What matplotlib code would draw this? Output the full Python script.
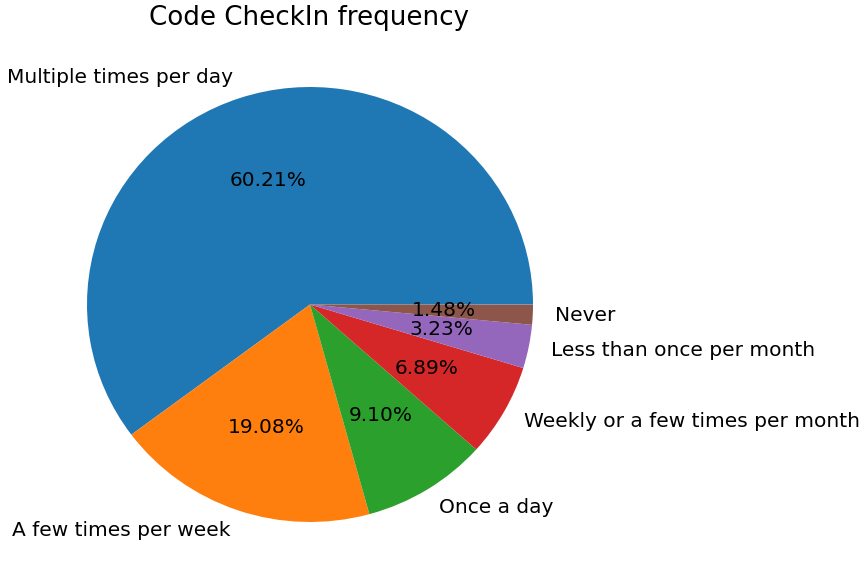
import matplotlib
matplotlib.use("Agg")
import matplotlib.pyplot as plt

# ======================
# Data
# ======================
labels = ["Multiple times per day", "A few times per week", "Once a day",
          "Weekly or a few times per month", "Less than once per month", "Never"]
shares = [60.21, 19.08, 9.10, 6.89, 3.23, 1.48]

fig = plt.figure(figsize=(8.65, 5.87), dpi=100)
# pie centre ~ (310, 304.5) px, radii ~223 (x) / ~217.5 (y) px; axes span 2.5 radii
w = 2.5 * 223
h = 2.5 * 217.5
ax = fig.add_axes([(310 - w / 2) / 865, (587 - 304.5 - h / 2) / 587,
                   w / 865, h / 587])

ax.pie([s / 100 for s in shares], labels=labels, autopct="%.2f%%",
       normalize=False, textprops={"fontsize": 14.5})
ax.set_aspect("auto")  # reference pie is slightly squashed
fig.text(309 / 865, 1 - 18 / 587, "Code CheckIn frequency",
         fontsize=18.8, ha="center", va="center")

fig.savefig("out.png", dpi=100)
